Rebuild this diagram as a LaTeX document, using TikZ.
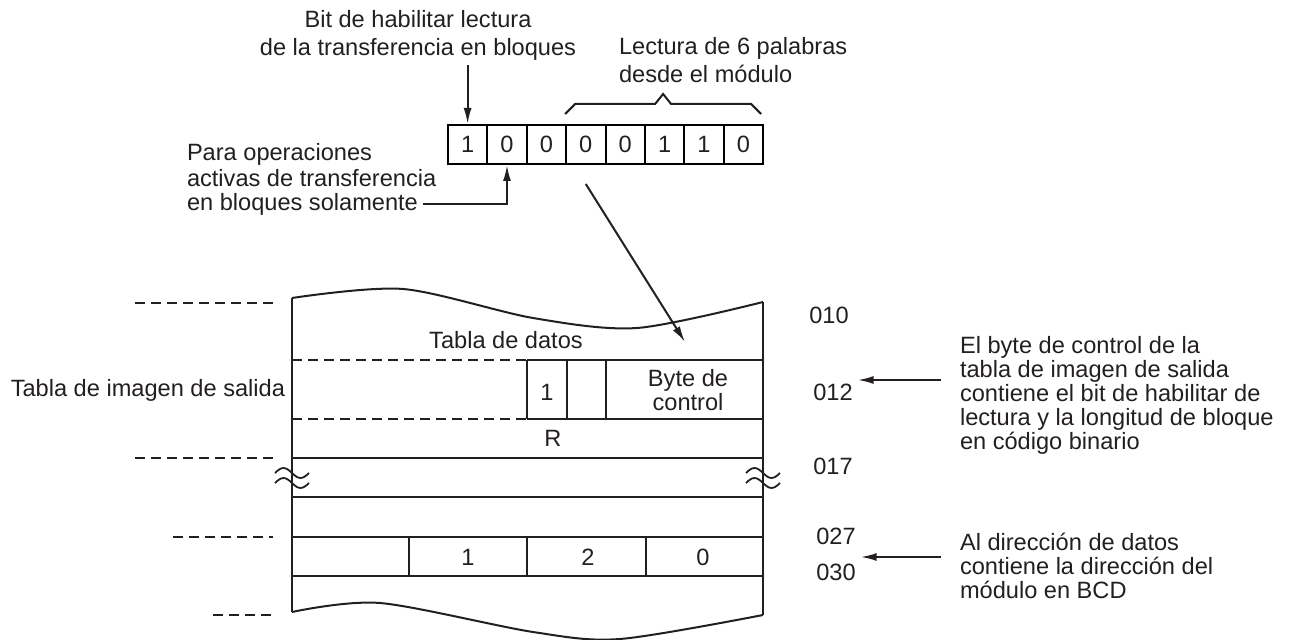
\documentclass[tikz,border=0pt]{standalone}
\usepackage{fontspec}
\setmainfont{Liberation Sans}
\usetikzlibrary{matrix,arrows.meta}
\definecolor{ink}{RGB}{35,31,32}

\begin{document}
\begin{tikzpicture}[
    x=0.5pt, y=-0.5pt,
    color=ink,
    line width=1pt,
    >={Latex[length=8pt,width=4pt]},
    every node/.style={
        text=ink,
        inner sep=2pt,
        font=\fontsize{11.8pt}{14pt}\selectfont
        },
    bitmatrix/.style={
        matrix of nodes,
        nodes={
            draw,
            minimum height=19.5pt,
            minimum width=19.7pt,
            anchor=center
            },
        column sep=-\pgflinewidth,
        row sep=-\pgflinewidth,
        inner sep=0pt
    },
    cut/.style={dash pattern=on 5pt off 3pt},
    tight/.style={font=\fontsize{11.8pt}{12pt}\selectfont}
]
\useasboundingbox (0,0) rectangle (1296,640);

% Block transfer control byte
\matrix[bitmatrix] (bits) at (605.5,144.5) {
    1 & 0 & 0 & 0 & 0 & 1 & 1 & 0 \\
};

\node[align=center] (bitlbl) at (418,35) {Bit de habilitar lectura\\de la transferencia en bloques};
\node[align=left, anchor=west] (wordlbl) at (614,60) {Lectura de 6 palabras\\desde el módulo};
\node[align=left, anchor=west, font=\fontsize{11.8pt}{13pt}\selectfont] (paralbl) at (182,165) {Para operaciones\\activas de transferencia};
\node[anchor=west] (sololbl) at (182,204) {en bloques solamente};

% brace over the block length
\draw ([yshift=5pt]bits-1-4.north west) -- ++(10,-10) -- ++(80,0) -- ++(8,-10) -- ++(8,10) -- ++(80,0) -- ++(10,10);

% Arrows to the bits
\draw[->] (bits-1-1.north |- bitlbl.south) -- (bits-1-1.north);
\draw[->] (sololbl.east) -| (bits-1-2.south);
\coordinate (ctltip) at (685,342);
\draw[->] ([yshift=-9.5pt]bits-1-4.south) -- (ctltip);

% Output image table (torn top and bottom)
\draw plot[smooth] coordinates {(292,298) (403,289) (533,318) (637,328) (763,302)};
\draw plot[smooth] coordinates {(292,612) (380,603) (533,632) (620,639) (763,615)};
\draw (292,298) -- (292,612);
\draw (763,302) -- (763,615);

\draw[cut] (292,360) -- (527,360);
\draw (527,360) -- (763,360);
\draw[cut] (292,419) -- (527,419);
\draw (527,419) -- (763,419);
\foreach \y in {458,497,537,576}
    \draw (292,\y) -- (763,\y);
\foreach \x in {527,567,606}
    \draw (\x,360) -- (\x,419);
\foreach \x in {409,527,646}
    \draw (\x,537) -- (\x,576);

% break marks
\foreach \x in {292,763}
    \foreach \y in {473,483}
        \draw[line width=0.9pt] (\x-17,\y) sin (\x-8.5,\y-5) cos (\x,\y) sin (\x+8.5,\y+5) cos (\x+17,\y);

% word boundaries on the left
\draw[cut] (135,303) -- (273,303);
\draw[cut] (135,458) -- (273,458);
\draw[cut] (173,537) -- (273,537);
\draw[cut] (213,615) -- (273,615);

\node (datos) at (506,340) {Tabla de datos};
\node (bitone) at (547,392) {1};
\node[align=center, font=\fontsize{11.8pt}{10pt}\selectfont] (ctlbyte) at (688,390) {Byte de\\control};
\node (rrow) at (553,438) {R};
\node (dig1) at (468,557) {1};
\node (dig2) at (588,557) {2};
\node (dig3) at (703,557) {0};
\node[anchor=east] (imglbl) at (290,390) {Tabla de imagen de salida};

% word addresses
\node (n010) at (829,315) {010};
\node (n012) at (833,392) {012};
\node (n017) at (833,466) {017};
\node (n027) at (836,536) {027};
\node (n030) at (836,572) {030};

% notes
\node[align=left, anchor=west, tight] (note1) at (955,395) {El byte de control de la\\tabla de imagen de salida\\contiene el bit de habilitar de\\lectura y la longitud de bloque\\en código binario};
\node[align=left, anchor=west, tight] (note2) at (955,566) {Al dirección de datos\\contiene la dirección del\\módulo en BCD};

\coordinate (a012) at (941,380);
\coordinate (a030) at (941,557);
\draw[->] (a012) -- (a012 -| n012.east);
\draw[->] (a030) -- (a030 -| n030.east);

\end{tikzpicture}
\end{document}
